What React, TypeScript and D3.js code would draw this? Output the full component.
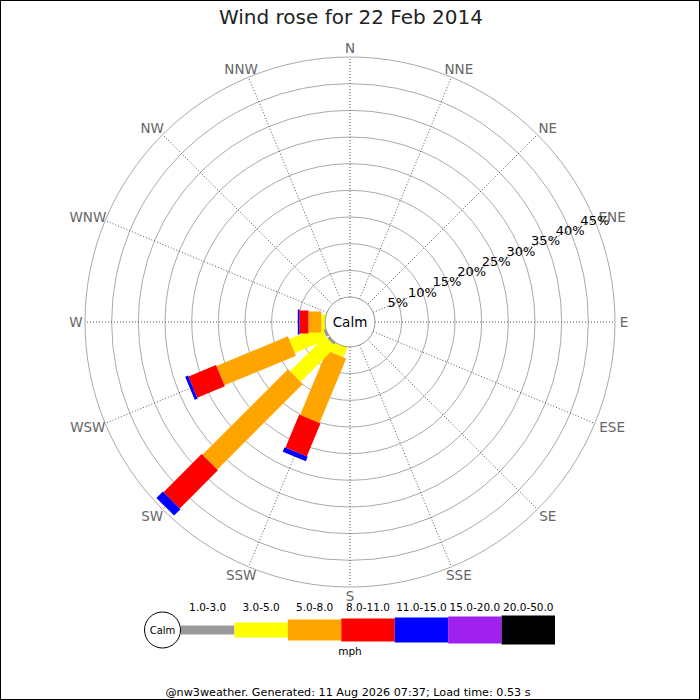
import * as d3 from 'd3';

// compass points, clockwise from north
const DIRECTIONS = ['N', 'NNE', 'NE', 'ENE', 'E', 'ESE', 'SE', 'SSE', 'S', 'SSW', 'SW', 'WSW', 'W', 'WNW', 'NW', 'NNW'];
const SPEED_BANDS = ['1.0-3.0', '3.0-5.0', '5.0-8.0', '8.0-11.0', '11.0-15.0', '15.0-20.0', '20.0-50.0'];
const BAND_COLORS = ['#999999', '#ffff00', '#ffa500', '#ff0000', '#0000ff', '#a020f0', '#000000'];

// % of time per direction (N..NNW) for each speed band
const BAND_1_3   = [0, 0, 0, 0, 0, 0, 0, 0, 0, 0, 0.5, 0.5, 0, 0, 0, 0];
const BAND_3_5   = [0, 0, 0, 0, 0, 0, 0, 0, 0, 1.9, 9.3, 6.6, 0.7, 0, 0, 0];
const BAND_5_8   = [0, 0, 0, 0, 0, 0, 0, 0, 0, 13.1, 22.7, 14.5, 2.4, 0, 0, 0];
const BAND_8_11  = [0, 0, 0, 0, 0, 0, 0, 0, 0, 6.7, 10.1, 5.6, 1.7, 0, 0, 0];
const BAND_11_15 = [0, 0, 0, 0, 0, 0, 0, 0, 0, 0.9, 1.7, 0.6, 0.3, 0, 0, 0];
const BAND_15_20 = [0, 0, 0, 0, 0, 0, 0, 0, 0, 0, 0, 0, 0, 0, 0, 0];
const BAND_20_50 = [0, 0, 0, 0, 0, 0, 0, 0, 0, 0, 0, 0, 0, 0, 0, 0];
const BAND_VALUES = [BAND_1_3, BAND_3_5, BAND_5_8, BAND_8_11, BAND_11_15, BAND_15_20, BAND_20_50];

const PCT_TICKS = [5, 10, 15, 20, 25, 30, 35, 40, 45];

const TITLE = 'Wind rose for 22 Feb 2014';
const FOOTER = '@nw3weather. Generated: 11 Aug 2026 07:37; Load time: 0.53 s';

// styling
const FONT = 'DejaVu Sans, sans-serif';
const BAND_WIDTHS = [9, 15, 21, 23, 25, 27, 29];
const CX = 350, CY = 322, R_CALM = 25, R_OUT = 265;

export default function App() {
  const r = d3.scaleLinear().domain([0, 45]).range([R_CALM, R_OUT]);
  const angle = d3.scaleLinear().domain([0, DIRECTIONS.length]).range([0, 360]);

  const rows = DIRECTIONS.map((dir, i) => {
    const row: Record<string, any> = { dir };
    SPEED_BANDS.forEach((b, j) => { row[b] = BAND_VALUES[j][i]; });
    return row;
  });
  const stacked = d3.stack<Record<string, any>>().keys(SPEED_BANDS)(rows);

  const polar = (deg: number, rad: number): [number, number] => {
    const a = (deg * Math.PI) / 180;
    return [CX + rad * Math.sin(a), CY - rad * Math.cos(a)];
  };

  const legendX = d3.scaleBand().domain(SPEED_BANDS).range([181, 555]);

  return (
    <svg width={700} height={700} style={{ position: 'absolute', left: 0, top: 0, background: '#fff' }}
      fontFamily={FONT}>
      <rect x={0.5} y={0.5} width={699} height={699} fill="#fff" stroke="#000" />
      <text x={351} y={24} textAnchor="middle" fontSize={20} fill="#222">{TITLE}</text>

      {/* rings */}
      {PCT_TICKS.map(p => (
        <circle key={p} cx={CX} cy={CY} r={r(p)} fill="none" stroke="#aaa" strokeWidth={1} />
      ))}

      {/* spokes */}
      {DIRECTIONS.map((d, i) => {
        const [x1, y1] = polar(angle(i), R_CALM);
        const [x2, y2] = polar(angle(i), R_OUT);
        return <line key={d} x1={x1} y1={y1} x2={x2} y2={y2} stroke="#555" strokeDasharray="1,2" />;
      })}

      {/* bars */}
      {DIRECTIONS.map((d, i) => (
        <g key={d} transform={`translate(${CX},${CY}) rotate(${angle(i)})`}>
          {stacked.map((layer, j) => {
            const [v0, v1] = layer[i];
            if (v1 - v0 <= 0) return null;
            const r0 = v0 === 0 ? 0 : r(v0);
            const r1 = r(v1);
            const w = BAND_WIDTHS[j];
            return <rect key={j} x={-w / 2} y={-r1} width={w} height={r1 - r0} fill={BAND_COLORS[j]} />;
          })}
        </g>
      ))}

      {/* calm circle */}
      <circle cx={CX} cy={CY} r={R_CALM} fill="#fff" stroke="#999" />
      <text x={CX} y={CY} textAnchor="middle" dominantBaseline="central" fontSize={13.5} fill="#000">Calm</text>

      {/* direction labels */}
      {DIRECTIONS.map((d, i) => {
        const a = angle(i);
        const [x, y] = polar(a, 274);
        const s = Math.sin((a * Math.PI) / 180);
        const dx = i % 4 === 0 ? 0 : Math.sign(s) * (Math.abs(s) > 0.9 ? 9 : 4);
        return (
          <text key={d} x={x + dx} y={y} textAnchor="middle" dominantBaseline="central" fontSize={13.5} fill="#666">{d}</text>
        );
      })}

      {/* percentage labels along ENE */}
      {PCT_TICKS.map(p => {
        const [x, y] = polar(67.5, r(p));
        return (
          <text key={p} x={x} y={y} textAnchor="middle" dominantBaseline="central" fontSize={13} fill="#000">{p}%</text>
        );
      })}

      {/* legend */}
      <circle cx={162.5} cy={630} r={18} fill="#fff" stroke="#000" />
      <text x={162.5} y={630} textAnchor="middle" dominantBaseline="central" fontSize={10} fill="#000">Calm</text>
      {SPEED_BANDS.map((b, j) => (
        <g key={b}>
          <rect x={legendX(b)} y={630 - BAND_WIDTHS[j] / 2} width={legendX.bandwidth()} height={BAND_WIDTHS[j]}
            fill={BAND_COLORS[j]} />
          <text x={(legendX(b) ?? 0) + legendX.bandwidth() / 2} y={610.5} textAnchor="middle" fontSize={10.5} fill="#000">{b}</text>
        </g>
      ))}
      <text x={350} y={655} textAnchor="middle" fontSize={10.5} fill="#000">mph</text>

      <text x={348} y={696} textAnchor="middle" fontSize={11.2} fill="#000">{FOOTER}</text>
    </svg>
  );
}
